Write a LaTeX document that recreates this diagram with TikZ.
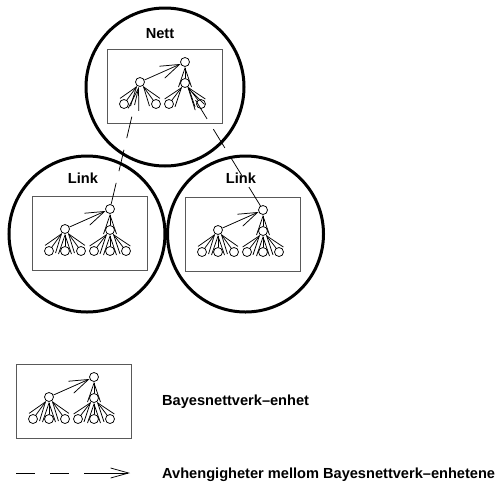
\documentclass[tikz,border=0pt]{standalone}
\usepackage{fontspec}
\setmainfont{Liberation Sans}
\usetikzlibrary{arrows.meta}
\newcommand\bnunit[4]{% #1 prefix, #2 x, #3 y, #4 full (1) or not (0)
\begin{scope}[shift={(#2,#3)}]
 \node[unitbox] (#1box) at (57.5,37) {};
 \node[bn] (#1R) at (78,13) {};
 \node[bn] (#1A) at (33,33) {};
 \node[bn] (#1B) at (78,34) {};
 \node[bn] (#1a1) at (17,55) {};
 \node[bn] (#1a3) at (49,55) {};
 \node[bn] (#1b1) at (62,55) {};
 \node[bn] (#1b3) at (94,55) {};
 \draw[edge] (#1A) -- (#1R);
 \draw[edge] (#1B) -- (#1R);
 \draw[edge] (#1a1) -- (#1A);
 \draw[edge] (#1a3) -- (#1A);
 \draw[edge] (#1b1) -- (#1B);
 \draw[edge] (#1b3) -- (#1B);
 \ifnum#4=1
  \node[bn] (#1a2) at (33,55) {};
  \node[bn] (#1b2) at (78,55) {};
  \draw[edge] (#1a2) -- (#1A);
  \draw[edge] (#1b2) -- (#1B);
 \fi
\end{scope}}
\begin{document}
\begin{tikzpicture}[x=1pt,y=-1pt,
  bn/.style={circle,draw,line width=0.75pt,minimum size=9pt,inner sep=0pt},
  edge/.style={line width=0.75pt,-{Straight Barb[length=19pt,width=13pt]}},
  dep/.style={line width=0.75pt,dash pattern=on 22pt off 12pt,-{Straight Barb[length=22pt,width=11pt]}},
  unitbox/.style={draw=black!65,line width=1pt,minimum width=115pt,minimum height=74pt,inner sep=0pt},
  bigc/.style={circle,draw,line width=3pt,inner sep=0pt},
  lbl/.style={font=\fontsize{14.6}{17}\selectfont\bfseries,inner sep=0pt}]
\useasboundingbox (0,0) rectangle (502,485);

\node[bigc,minimum size=158pt] (nett) at (165,87) {};
\node[bigc,minimum size=156pt] (linkL) at (87,234) {};
\node[bigc,minimum size=156pt] (linkR) at (245.5,234) {};

\node[lbl,anchor=base] (tNett) at (160,38) {Nett};
\node[lbl,anchor=base] (tLinkL) at (83,183) {Link};
\node[lbl,anchor=base] (tLinkR) at (241,183) {Link};

\bnunit{n}{107}{49}{0}
\bnunit{l}{32}{196}{1}
\bnunit{r}{185}{197}{1}
\bnunit{g}{16}{364}{1}

\draw[dep] (lR) -- (nA);
\draw[dep] (rR) -- (nB);

\node[lbl,anchor=base west] (t1) at (162,405) {Bayesnettverk–enhet};
\coordinate (ds) at (16,473);
\coordinate (de) at (130,473);
\draw[line width=0.75pt,dash pattern=on 19pt off 15pt on 19pt off 15pt on 80pt,-{Straight Barb[length=18pt,width=10pt]}] (ds) -- (de);
\node[lbl,anchor=base west] (t2) at (162,478) {Avhengigheter mellom Bayesnettverk–enhetene};
\end{tikzpicture}
\end{document}
